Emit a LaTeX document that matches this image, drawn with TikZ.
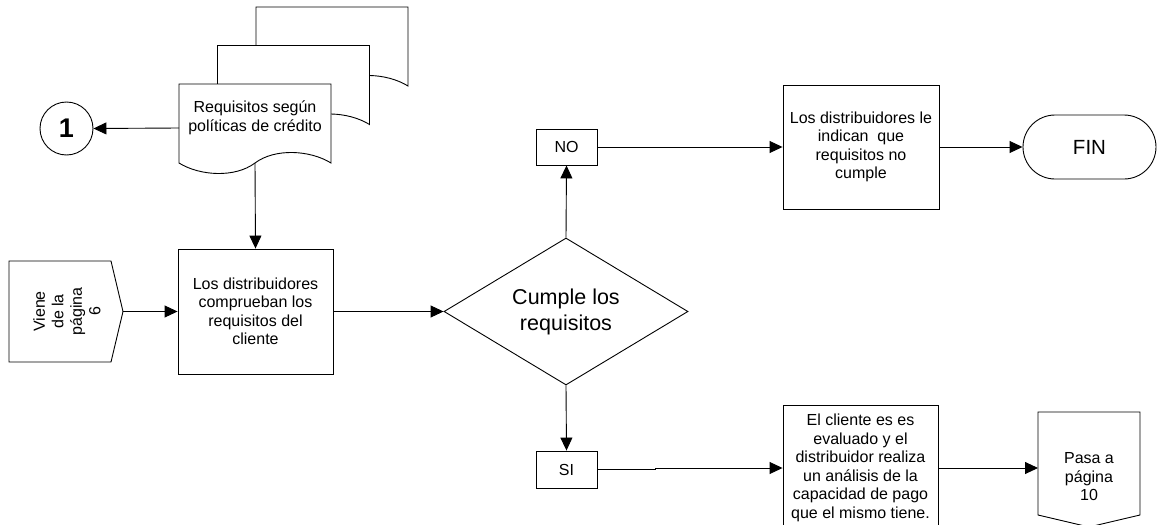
\documentclass[tikz,border=0pt]{standalone}
\usepackage{fontspec}
\setmainfont{Liberation Sans}
\usetikzlibrary{arrows.meta,shapes.geometric}

\tikzset{
  docpage/.pic={
    \path[draw,fill=white] (0,0) -- (152,0) -- (152,79)
      .. controls (131,66) and (96,64) .. (76,79)
      .. controls (56,94) and (21,92) .. (0,79) -- cycle;
  }
}

\begin{document}
\begin{tikzpicture}[x=1pt,y=-1pt,
  line width=0.9pt,
  every node/.style={font=\fontsize{16}{18.5}\selectfont},
  flow/.style={-{Triangle[length=13pt,width=12pt]}},
  procbox/.style={draw,rectangle,inner sep=0pt,align=center},
  decision/.style={draw,diamond,aspect=1.66,inner sep=0pt,align=center,
    minimum width=244pt,minimum height=147pt,
    font=\fontsize{21.5}{26}\selectfont},
  terminal/.style={draw,rectangle,rounded corners=32pt,inner sep=0pt,
    minimum width=133pt,minimum height=64pt,
    font=\fontsize{20.5}{22}\selectfont},
  connector/.style={draw,circle,inner sep=0pt,minimum size=53pt,
    font=\fontsize{27}{27}\selectfont\bfseries}
]
\useasboundingbox (0,0) rectangle (1163,525);

% stacked document: credit policy requirements
\pic at (256,7) {docpage};
\pic at (217.5,45.5) {docpage};
\pic at (179,84) {docpage};
\node[align=center] (req) at (255,118) {Requisitos según\\políticas de crédito};
\coordinate (reqL) at (179,128);
\coordinate (reqB) at (255,163);

% on-page connector
\node[connector] (uno) at (66.5,128.5) {1};

% off-page connector: coming from page 6
\draw (9,261) -- (111,261) -- (123,311.5) -- (111,362) -- (9,362) -- cycle;
\coordinate (vieneP) at (123,311.5);
\node[rotate=90,align=center] (viene) at (67,311.5) {Viene\\de la\\página\\6};

% process steps
\node[procbox,minimum width=155pt,minimum height=125pt] (check) at (255.5,311.5)
  {Los distribuidores\\comprueban los\\requisitos del\\cliente};
\node[decision] (cumple) at (566,311.5) {Cumple los\\requisitos};
\node[procbox,minimum width=61pt,minimum height=36pt] (no) at (566.5,147) {NO};
\node[procbox,minimum width=156pt,minimum height=124pt] (indica) at (861,147)
  {Los distribuidores le\\indican\ \ que\\requisitos no\\cumple};
\node[terminal] (fin) at (1089.5,147) {FIN};
\node[procbox,minimum width=61pt,minimum height=37pt] (si) at (566.5,469.5) {SI};
\node[procbox,minimum width=155pt,minimum height=126pt] (evalua) at (860.5,468)
  {El cliente es es\\evaluado y el\\distribuidor realiza\\un análisis de la\\capacidad de pago\\que el mismo tiene.};

% off-page connector: to page 10
\draw (1038,412) -- (1140,412) -- (1140,515) -- (1089,527) -- (1038,515) -- cycle;
\coordinate (pasa) at (1038,468);
\node[align=center] (pasatxt) at (1089,477) {Pasa a\\página\\10};

% connectors
\draw[flow] (reqL) -- (uno.east);
\draw[flow] (reqB) -- (check.north);
\draw[flow] (vieneP) -- (check.west);
\draw[flow] (check.east) -- (cumple.west);
\draw[flow] (cumple.north) -- (no.south);
\draw[flow] (no.east) -- (indica.west);
\draw[flow] (indica.east) -- (fin.west);
\draw[flow] (cumple.south) -- (si.north);
\draw[flow] (si.east) -- ++(58,0) |- (evalua.west);
\draw[flow] (evalua.east) -- (pasa);
\end{tikzpicture}
\end{document}
